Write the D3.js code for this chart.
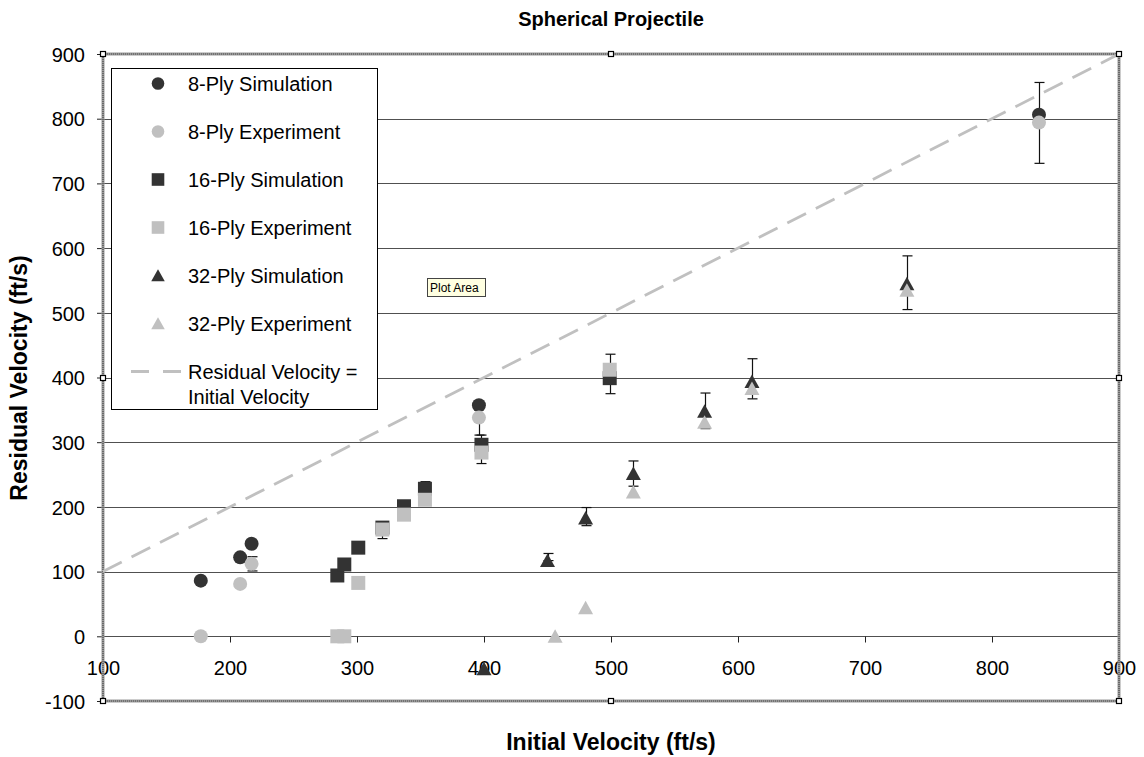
<!DOCTYPE html>
<html><head><meta charset="utf-8">
<script src="https://cdn.jsdelivr.net/npm/d3@7"></script>
<style>
html,body{margin:0;padding:0;background:#fff;}
svg{display:block;font-family:"Liberation Sans",Arial,sans-serif;}
</style></head>
<body><svg id="c" width="1144" height="757"></svg>
<script>
// ---------- data ----------
const xTicks = [100,200,300,400,500,600,700,800,900];
const yTicks = [-100,0,100,200,300,400,500,600,700,800,900];
const gridValues = [0,100,200,300,400,500,600,700,800];

const sim8X = [177, 208, 217, 396, 837];
const sim8Y = [86, 122, 143, 357, 806];
const exp8X = [177, 208, 217, 396, 837];
const exp8Y = [0, 81, 112, 338, 794];
const exp8Lo = [null, null, 101, 311, 731];
const exp8Hi = [null, null, 123, 338, 856];

const sim16X = [284.5, 290, 301, 320, 337, 353.5, 398, 499];
const sim16Y = [94, 111, 137, 168, 201, 228, 296, 399];
const exp16X = [284.5, 290, 301, 320, 337, 353.5, 398, 499];
const exp16Y = [0, 0, 82.5, 165, 188, 211, 284, 412];
const exp16Lo = [null, null, null, 151, 188, 211, 267, 375];
const exp16Hi = [null, null, null, 176, 209, 239, 311, 436];

const sim32X = [400, 450, 480, 517.6, 573.7, 611, 733];
const sim32Y = [-50, 117, 183, 251.5, 348, 394, 545];
const sim32Lo = [null, 117, 171, 232, 321, 367, 505];
const sim32Hi = [null, 128, 199, 271, 376, 429, 588];
const exp32X = [456, 480, 517.6, 573.7, 611, 733];
const exp32Y = [0, 44, 223, 331, 383, 535];

const refX = [100, 900];
const refY = [100, 900];

const seriesNames = ["8-Ply Simulation","8-Ply Experiment","16-Ply Simulation","16-Ply Experiment","32-Ply Simulation","32-Ply Experiment"];
const refName = ["Residual Velocity =","Initial Velocity"];
const titleText = "Spherical Projectile";
const xTitle = "Initial Velocity (ft/s)";
const yTitle = "Residual Velocity (ft/s)";

// ---------- chart ----------
const DARK = "#333333", LIGHT = "#c0c0c0";
const svg = d3.select("#c");
const x = d3.scaleLinear().domain([100,900]).range([103,1119]);
const y = d3.scaleLinear().domain([-100,900]).range([701,54]);

const series = [
  {name:seriesNames[0], xs:sim8X, ys:sim8Y, shape:"circle", color:DARK},
  {name:seriesNames[1], xs:exp8X, ys:exp8Y, lo:exp8Lo, hi:exp8Hi, shape:"circle", color:LIGHT},
  {name:seriesNames[2], xs:sim16X, ys:sim16Y, shape:"square", color:DARK},
  {name:seriesNames[3], xs:exp16X, ys:exp16Y, lo:exp16Lo, hi:exp16Hi, shape:"square", color:LIGHT},
  {name:seriesNames[4], xs:sim32X, ys:sim32Y, lo:sim32Lo, hi:sim32Hi, shape:"triangle", color:DARK},
  {name:seriesNames[5], xs:exp32X, ys:exp32Y, shape:"triangle", color:LIGHT}
];

function shapePath(shape){
  if(shape==="circle") return "M-7,0A7,7 0 1,0 7,0A7,7 0 1,0 -7,0Z";
  if(shape==="square") return "M-7,-7H7V7H-7Z";
  return "M0,-7L7.5,6.5H-7.5Z";
}
const fmt = d => String(d);

// title
svg.append("text").attr("x",611).attr("y",26).attr("text-anchor","middle")
  .attr("font-size",20).attr("font-weight","bold").text(titleText);

// gridlines
svg.append("g").selectAll("line").data(gridValues).join("line")
  .attr("x1",x(100)).attr("x2",x(900))
  .attr("y1",d=>Math.round(y(d))+0.5).attr("y2",d=>Math.round(y(d))+0.5)
  .attr("stroke","#505050").attr("stroke-width",1);

// x axis at y=0
const xAxis = svg.append("g").attr("transform",`translate(0,${Math.round(y(0))+0.5})`)
  .call(d3.axisBottom(x).tickValues(xTicks).tickSize(6).tickFormat(fmt));
xAxis.select(".domain").remove();
xAxis.selectAll("line").attr("stroke","#222");
xAxis.selectAll("text").attr("y",38).attr("dy",0).attr("font-size",20)
  .attr("font-family","Liberation Sans, Arial, sans-serif").attr("fill","#000");

// y axis
const yAxis = svg.append("g").attr("transform",`translate(${x(100)},0)`)
  .call(d3.axisLeft(y).tickValues(yTicks).tickSize(6).tickPadding(12).tickFormat(fmt));
yAxis.select(".domain").remove();
yAxis.selectAll("line").attr("stroke","#222");
yAxis.selectAll("text").attr("font-size",20).attr("dy","0.36em")
  .attr("font-family","Liberation Sans, Arial, sans-serif").attr("fill","#000");

// plot area border (selected style)
const bx0=x(100), bx1=x(900), by0=y(900), by1=y(-100);
const border = svg.append("g");
border.append("rect").attr("x",bx0).attr("y",by0).attr("width",bx1-bx0).attr("height",by1-by0)
  .attr("fill","none").attr("stroke","#9a9a9a").attr("stroke-width",3);
border.append("rect").attr("x",bx0).attr("y",by0).attr("width",bx1-bx0).attr("height",by1-by0)
  .attr("fill","none").attr("stroke","#4a4a4a").attr("stroke-width",1.2).attr("stroke-dasharray","1 1");

// reference dashed line
svg.append("line").attr("x1",x(refX[0])).attr("y1",y(refY[0])).attr("x2",x(refX[1])).attr("y2",y(refY[1]))
  .attr("stroke",LIGHT).attr("stroke-width",2.8).attr("stroke-dasharray","21 11");

// error bars
const eb = svg.append("g").attr("stroke","#111").attr("stroke-width",1.2);
series.forEach(s=>{
  if(!s.lo) return;
  s.xs.forEach((xv,i)=>{
    if(s.lo[i]==null) return;
    const cx = Math.round(x(xv))+0.5;
    const y1=y(s.lo[i]), y2=y(s.hi[i]);
    eb.append("line").attr("x1",cx).attr("x2",cx).attr("y1",y1).attr("y2",y2);
    eb.append("line").attr("x1",cx-5).attr("x2",cx+5).attr("y1",y1).attr("y2",y1);
    eb.append("line").attr("x1",cx-5).attr("x2",cx+5).attr("y1",y2).attr("y2",y2);
  });
});

// markers
series.forEach(s=>{
  svg.append("g").selectAll("path").data(s.xs.map((xv,i)=>[xv,s.ys[i]])).join("path")
    .attr("d",shapePath(s.shape))
    .attr("transform",d=>`translate(${x(d[0])},${y(d[1])})`)
    .attr("fill",s.color);
});

// handles
const hpts = [[bx0,by0],[(bx0+bx1)/2,by0],[bx1,by0],[bx0,(by0+by1)/2],[bx1,(by0+by1)/2],[bx0,by1],[(bx0+bx1)/2,by1],[bx1,by1]];
svg.append("g").selectAll("rect").data(hpts).join("rect")
  .attr("x",d=>Math.round(d[0])-2.5).attr("y",d=>Math.round(d[1])-2.5).attr("width",5).attr("height",5)
  .attr("fill","#fff").attr("stroke","#000").attr("stroke-width",1.2);

// legend
const lg = svg.append("g");
lg.append("rect").attr("x",111.5).attr("y",68.5).attr("width",266).attr("height",341)
  .attr("fill","#fff").attr("stroke","#000").attr("stroke-width",1);
const rowY = i => 83.5 + i*48;
series.forEach((s,i)=>{
  lg.append("path").attr("d",shapePath(s.shape))
    .attr("transform",`translate(158,${rowY(i)}) scale(0.9)`).attr("fill",s.color);
  lg.append("text").attr("x",188).attr("y",rowY(i)).attr("dy","0.36em")
    .attr("font-size",20).text(s.name);
});
lg.append("line").attr("x1",131).attr("x2",187).attr("y1",rowY(6)).attr("y2",rowY(6))
  .attr("stroke",LIGHT).attr("stroke-width",2.8).attr("stroke-dasharray","18 14");
lg.append("text").attr("x",188).attr("y",rowY(6)).attr("dy","0.36em").attr("font-size",20).text(refName[0]);
lg.append("text").attr("x",188).attr("y",rowY(6)+25).attr("dy","0.36em").attr("font-size",20).text(refName[1]);

// tooltip
const tt = svg.append("g");
tt.append("rect").attr("x",427.5).attr("y",278.5).attr("width",58).attr("height",18)
  .attr("fill","#ffffe1").attr("stroke","#444").attr("stroke-width",1);
tt.append("text").attr("x",430).attr("y",292).attr("font-size",12).text("Plot Area");

// axis titles
svg.append("text").attr("x",611).attr("y",750).attr("text-anchor","middle")
  .attr("font-size",23).attr("font-weight","bold").text(xTitle);
svg.append("text").attr("transform",`translate(27,378) rotate(-90)`).attr("text-anchor","middle")
  .attr("font-size",23).attr("font-weight","bold").text(yTitle);
</script></body></html>
